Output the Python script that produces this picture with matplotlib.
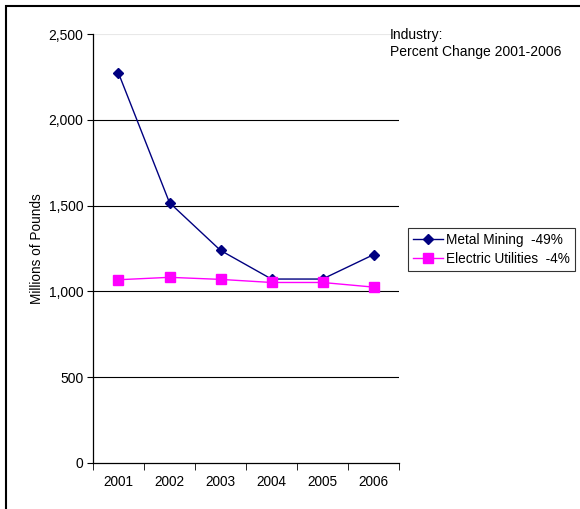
import matplotlib
matplotlib.use("Agg")
from matplotlib import pyplot as plt
from matplotlib.patches import Rectangle

years = ["2001", "2002", "2003", "2004", "2005", "2006"]
metal_mining = [2272, 1517, 1239, 1072, 1072, 1214]
electric_utilities = [1068, 1082, 1070, 1052, 1052, 1025]
series_labels = ["Metal Mining  -49%", "Electric Utilities  -4%"]
yticks = [0, 500, 1000, 1500, 2000, 2500]

plt.rcParams['font.family'] = ['Liberation Sans', 'DejaVu Sans']

fig = plt.figure(figsize=(5.8, 5.09), dpi=100)
ax = fig.add_axes([93 / 580, 1 - 463 / 509, 306 / 580, 429 / 509])

# outer chart border (cut off at right and bottom like the original)
fig.patches.append(Rectangle((6 / 580, -0.1), 1.2, 1 - 6 / 509 + 0.1,
                             transform=fig.transFigure, fill=False,
                             edgecolor='black', linewidth=1.5))

x = range(len(years))
ax.plot(x, metal_mining, color='#000080', marker='D', markersize=5,
        linewidth=1, label=series_labels[0])
ax.plot(x, electric_utilities, color='#FF00FF', marker='s', markersize=6.5,
        linewidth=1, label=series_labels[1])

ax.set_xlim(-0.5, len(years) - 0.5)
ax.set_ylim(0, 2500)
ax.set_yticks(yticks)
ax.set_yticklabels([f"{v:,}" for v in yticks], fontsize=10)
ax.set_xticks(list(x))
ax.set_xticklabels(years, fontsize=9.8)
ax.set_xticks([i - 0.5 for i in range(len(years) + 1)], minor=True)
ax.tick_params(axis='x', which='major', length=0, pad=9)
ax.tick_params(axis='x', which='minor', length=5, direction='out', color='black')
ax.tick_params(axis='y', length=4, direction='out', color='black', pad=3)

for v in yticks[1:-1]:
    ax.axhline(v, color='black', linewidth=0.8, zorder=0)
ax.axhline(2500, color='#e8e8e8', linewidth=0.8, zorder=0)

ax.spines['top'].set_visible(False)
ax.spines['right'].set_visible(False)
ax.spines['left'].set_linewidth(0.9)
ax.spines['bottom'].set_linewidth(0.9)

ax.set_ylabel("Millions of Pounds", fontsize=9.8, labelpad=3)

fig.text(390 / 580, 1 - 28 / 509, "Industry:\nPercent Change 2001-2006",
         fontsize=10, va='top', ha='left', linespacing=1.3)

leg = ax.legend(loc='upper left', bbox_to_anchor=(408 / 580, 1 - 228 / 509),
                bbox_transform=fig.transFigure, fontsize=9.8, frameon=True,
                fancybox=False, borderpad=0.35, handlelength=2.2,
                handletextpad=0.25, labelspacing=0.4, borderaxespad=0)
leg.get_frame().set_edgecolor('black')
leg.get_frame().set_linewidth(0.8)

fig.savefig("out.png", dpi=100)
